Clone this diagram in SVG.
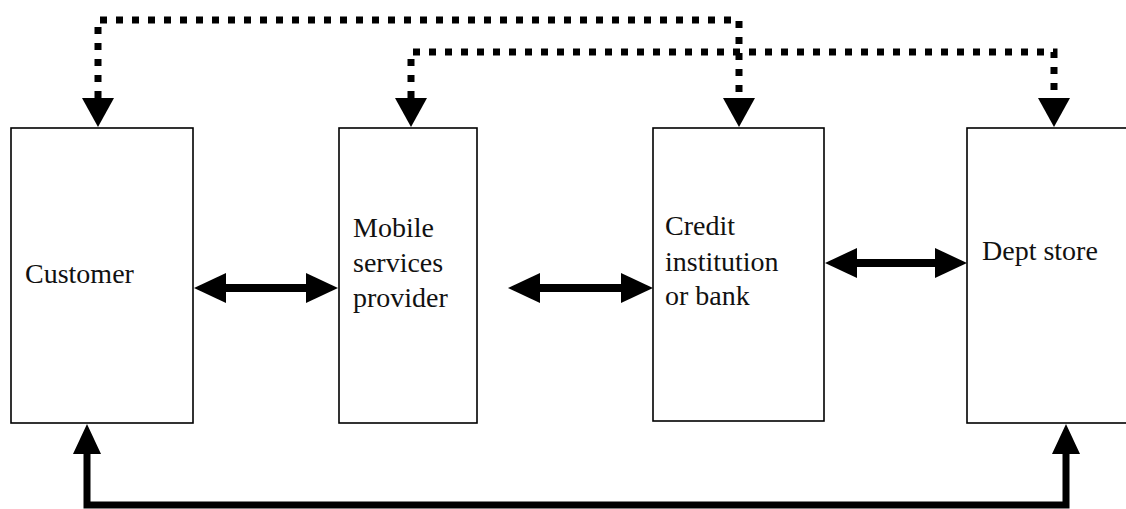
<svg xmlns="http://www.w3.org/2000/svg" width="1126" height="509" viewBox="0 0 1126 509">
<style>
.box{fill:#fff;stroke:#000;stroke-width:1.6}
.lbl{font-family:"Liberation Serif","Times New Roman",serif;font-size:28px;fill:#111}
.dot{fill:none;stroke:#000;stroke-width:7;stroke-dasharray:7 9}
.solid{fill:none;stroke:#000;stroke-width:7}
.shaft{fill:none;stroke:#000;stroke-width:8}
.head{fill:#000}
</style>
<rect width="1126" height="509" fill="#fff"/>
<g id="customer">
<rect class="box" x="11" y="128" width="182" height="295"/>
<text class="lbl" x="25" y="283">Customer</text>
</g>
<g id="mobile">
<rect class="box" x="339" y="128" width="138" height="295"/>
<text class="lbl" x="353" y="237">Mobile</text>
<text class="lbl" x="353" y="272">services</text>
<text class="lbl" x="353" y="307">provider</text>
</g>
<g id="credit">
<rect class="box" x="653" y="128" width="171" height="293"/>
<text class="lbl" x="665" y="235">Credit</text>
<text class="lbl" x="665" y="271">institution</text>
<text class="lbl" x="665" y="305">or bank</text>
</g>
<g id="dept">
<rect class="box" x="967" y="128" width="170" height="295"/>
<text class="lbl" x="982" y="260">Dept store</text>
</g>
<g id="connectors">
<path class="dot" d="M98,98 V20 H739 V98"/>
<path class="dot" d="M411,98 V52 H1054 V98"/>
<polygon class="head" points="82,98 114,98 98,127"/>
<polygon class="head" points="395,98 427,98 411,127"/>
<polygon class="head" points="723,98 755,98 739,127"/>
<polygon class="head" points="1038,98 1070,98 1054,127"/>
<path class="solid" d="M87,453 V505 H1066 V453"/>
<polygon class="head" points="73,454 101,454 87,424"/>
<polygon class="head" points="1052,454 1080,454 1066,424"/>
<line class="shaft" x1="220" y1="288" x2="312" y2="288"/>
<polygon class="head" points="194,288 226,273 226,303"/>
<polygon class="head" points="338,288 306,273 306,303"/>
<line class="shaft" x1="534" y1="288" x2="627" y2="288"/>
<polygon class="head" points="508,288 540,273 540,303"/>
<polygon class="head" points="653,288 621,273 621,303"/>
<line class="shaft" x1="850" y1="263" x2="941" y2="263"/>
<polygon class="head" points="825,263 857,248 857,278"/>
<polygon class="head" points="967,263 935,248 935,278"/>
</g>
</svg>
